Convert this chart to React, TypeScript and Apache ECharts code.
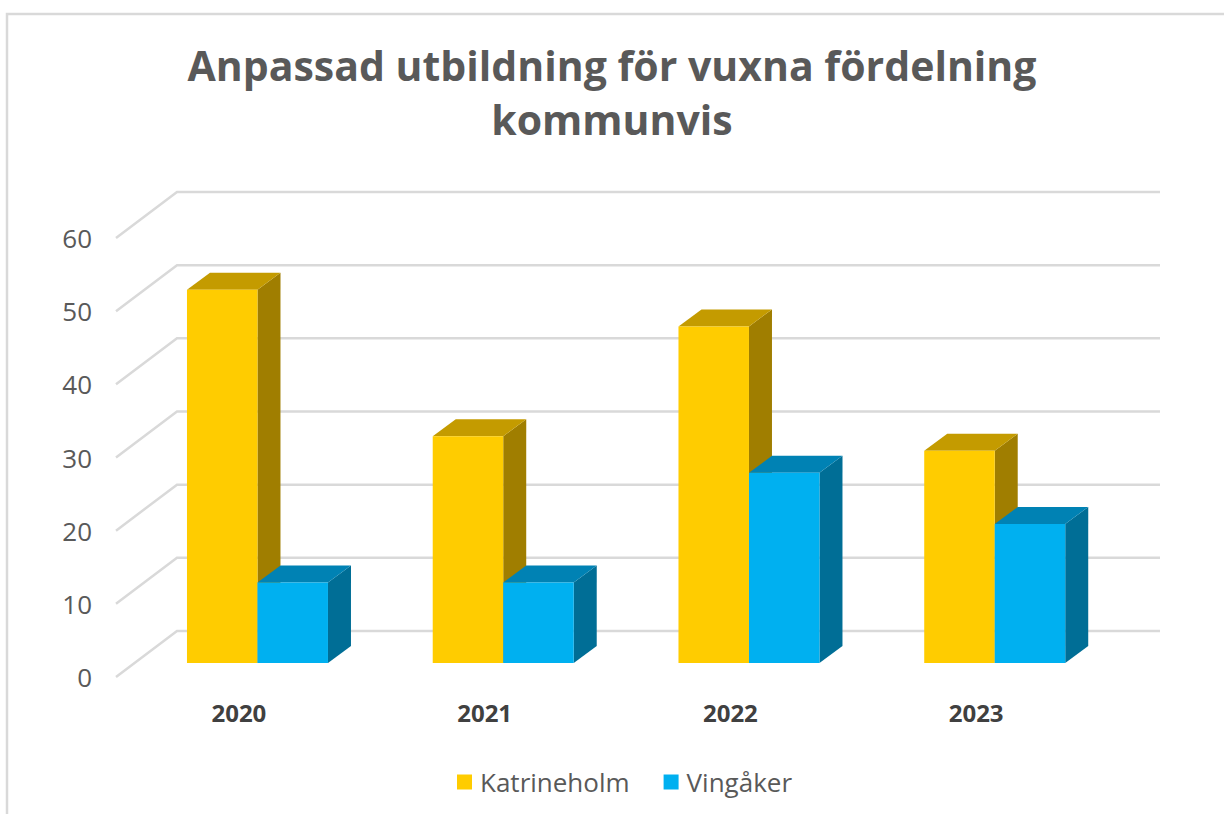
import React, { useEffect, useRef } from "react";
import * as echarts from "echarts";

const categories = ["2020", "2021", "2022", "2023"];
const katrineholm = [51, 31, 46, 29];
const vingaker = [11, 11, 26, 19];
const yTicks = [0, 10, 20, 30, 40, 50, 60];
const seriesNames = ["Katrineholm", "Vingåker"];

const FONT = "'Open Sans', 'Noto Sans', sans-serif";

// 3D geometry (pixels)
const WALL_DX = 61;
const WALL_DY = -46;
const BAR_OFF_DX = 18.6;
const BAR_OFF_DY = -14;
const BAR_W = 70.5;
const BAR_DX = 23;
const BAR_DY = -17;

const palette = [
  { front: "#FFCC00", top: "#C49B00", side: "#A07E00" },
  { front: "#00B0F0", top: "#0082B4", side: "#006E96" },
];

function barRenderer(sIdx: number) {
  return (params: any, api: any) => {
    const cat = api.value(0);
    const val = api.value(1);
    const top = api.coord([cat, val]);
    const base = api.coord([cat, 0]);
    const cx = top[0];
    const left = cx + BAR_OFF_DX + (sIdx === 0 ? -BAR_W : 0);
    const right = left + BAR_W;
    const yt = top[1] + BAR_OFF_DY;
    const yb = base[1] + BAR_OFF_DY;
    const c = palette[sIdx];
    return {
      type: "group",
      children: [
        {
          type: "polygon",
          shape: {
            points: [
              [right, yt],
              [right + BAR_DX, yt + BAR_DY],
              [right + BAR_DX, yb + BAR_DY],
              [right, yb],
            ],
          },
          style: { fill: c.side },
        },
        {
          type: "polygon",
          shape: {
            points: [
              [left, yt],
              [right, yt],
              [right + BAR_DX, yt + BAR_DY],
              [left + BAR_DX, yt + BAR_DY],
            ],
          },
          style: { fill: c.top },
        },
        {
          type: "rect",
          shape: { x: left, y: yt, width: BAR_W, height: yb - yt },
          style: { fill: c.front },
        },
      ],
    };
  };
}

export default function App() {
  const ref = useRef<HTMLDivElement>(null);
  useEffect(() => {
    if (!ref.current) return;
    const chart = echarts.init(ref.current, null, { renderer: "svg" });
    const option: any = {
      animation: false,
      backgroundColor: "#ffffff",
      title: {
        text: "Anpassad utbildning för vuxna fördelning\nkommunvis",
        left: "center",
        top: 33,
        textStyle: {
          fontFamily: FONT,
          fontSize: 41,
          fontWeight: "bold",
          color: "#595959",
          lineHeight: 54,
        },
      },
      graphic: [
        {
          type: "rect",
          shape: { x: 7, y: 14, width: 1240, height: 900 },
          style: { fill: "none", stroke: "#d9d9d9", lineWidth: 2.5 },
          silent: true,
          z: -10,
        },
      ],
      legend: {
        data: seriesNames,
        left: 457,
        top: 769,
        padding: 0,
        icon: "rect",
        itemWidth: 15,
        itemHeight: 15,
        itemGap: 34,
        textStyle: {
          fontFamily: FONT,
          fontSize: 26,
          color: "#595959",
          padding: [0, 0, 0, 3],
        },
      },
      grid: { left: 116, right: 125, top: 238, bottom: 137 },
      xAxis: {
        type: "category",
        data: categories,
        axisLine: { show: false },
        axisTick: { show: false },
        axisLabel: {
          margin: 23,
          fontFamily: FONT,
          fontSize: 24,
          fontWeight: "bold",
          color: "#404040",
        },
      },
      yAxis: {
        type: "value",
        min: 0,
        max: 60,
        interval: 10,
        axisLine: { show: false },
        axisTick: { show: false },
        splitLine: { show: false },
        axisLabel: {
          margin: 24,
          fontFamily: FONT,
          fontSize: 26,
          color: "#595959",
        },
      },
      series: [
        {
          type: "custom",
          name: "walls",
          silent: true,
          z: 1,
          data: yTicks.map((v) => [0, v]),
          renderItem: (params: any, api: any) => {
            const cs = params.coordSys;
            const y = api.coord([0, api.value(1)])[1];
            const x0 = cs.x;
            const x1 = cs.x + cs.width;
            return {
              type: "polyline",
              shape: {
                points: [
                  [x0, y],
                  [x0 + WALL_DX, y + WALL_DY],
                  [x1 + WALL_DX, y + WALL_DY],
                ],
              },
              style: { fill: "none", stroke: "#d9d9d9", lineWidth: 2.5 },
            };
          },
        },
        {
          type: "custom",
          name: seriesNames[0],
          z: 2,
          itemStyle: { color: palette[0].front },
          data: katrineholm.map((v, i) => [i, v]),
          renderItem: barRenderer(0),
        },
        {
          type: "custom",
          name: seriesNames[1],
          z: 3,
          itemStyle: { color: palette[1].front },
          data: vingaker.map((v, i) => [i, v]),
          renderItem: barRenderer(1),
        },
      ],
    };
    chart.setOption(option);
    return () => chart.dispose();
  }, []);
  return (
    <div
      ref={ref}
      style={{ position: "absolute", left: 0, top: 0, width: 1224, height: 814 }}
    />
  );
}
